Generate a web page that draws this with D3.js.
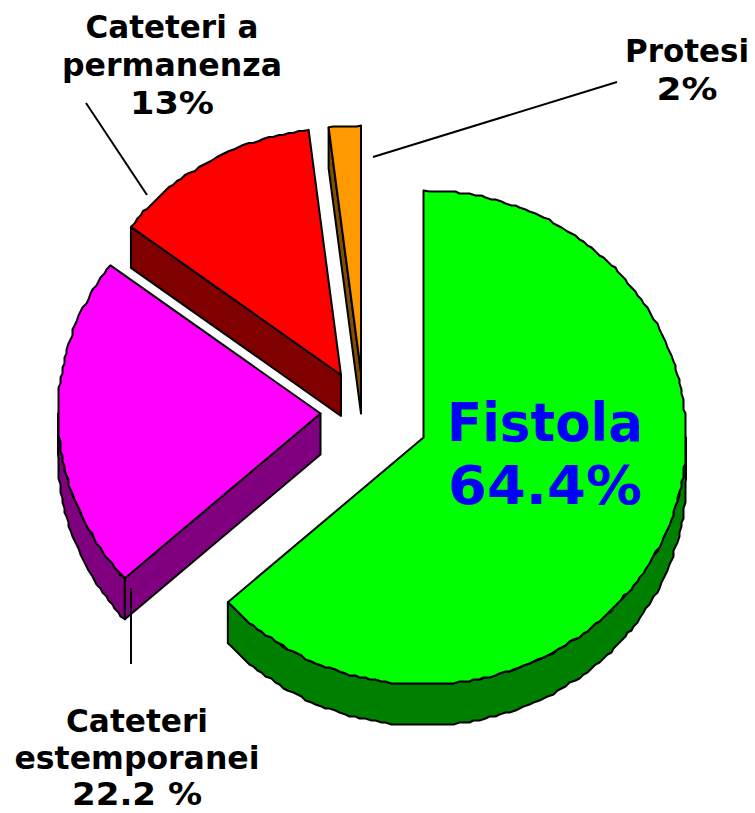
<!DOCTYPE html>
<html><head><meta charset="utf-8">
<script src="https://cdn.jsdelivr.net/npm/d3@7"></script>
<style>html,body{margin:0;padding:0;background:#fff}svg{display:block}</style>
</head><body><svg id="c" width="755" height="813"></svg>
<script>
const categories = ["Fistola","Cateteri estemporanei","Cateteri a permanenza","Protesi"];
const values = [64.4,22.2,13,2];
const topColors = ["#00ff00","#ff00ff","#ff0000","#ff9900"];
const wallColors = ["#008000","#800080","#800000","#805000"];
const labelLines = [["Fistola","64.4%"],["Cateteri","estemporanei","22.2 %"],["Cateteri a","permanenza","13%"],["Protesi","2%"]];

// layout
const rx=262.5, ry=247, depth=41, gridStep=2, angleStep=0.02;
const centers=[[423.5,437.5],[320.5,413.5],[341,375],[361,372.5]];
const labelPos=[
 {x:545,y:441,lh:63,size:54,fill:"#0000ff",w:[196,194]},
 {x:137,y:732,lh:36.5,size:31.5,fill:"#000",w:[142,245,130]},
 {x:172,y:38,lh:38,size:31.5,fill:"#000",w:[173,220,84]},
 {x:687,y:62,lh:38,size:31.5,fill:"#000",w:[124,61]}];
const leaders=[[[86,103],[147,195]],[[373,157],[617,82]],[[131,588],[131,664]]];

const svg=d3.select("#c");
const pie=d3.pie().sort(null).startAngle(0).endAngle(2*Math.PI)(values);
const line=d3.line().x(d=>d[0]).y(d=>d[1]);
const sx=d3.scaleLinear().domain([-1,1]).range([-rx,rx]);
const sy=d3.scaleLinear().domain([-1,1]).range([ry,-ry]);
const snap=v=>Math.round(v/gridStep)*gridStep;
function rim(a0,a1,c,dy=0){
  const n=Math.max(1,Math.ceil(Math.abs(a1-a0)/angleStep)),pts=[];
  for(let i=0;i<=n;i++){
    const a=a0+(a1-a0)*i/n, ends=(i===0||i===n);
    const x=sx(Math.sin(a)), y=sy(Math.cos(a));
    pts.push([c[0]+(ends?x:snap(x)),c[1]+(ends?y:snap(y))+dy]);
  }
  return pts;
}
function poly(pts,fill){
  svg.append("path").attr("d",line(pts)+"Z").attr("fill",fill)
    .attr("stroke","#000").attr("stroke-width",2).attr("stroke-linejoin","round");
}
function wall(i,a0,a1){
  const c=centers[i],t=rim(a0,a1,c);
  poly(t.concat(rim(a1,a0,c,depth)),wallColors[i]);
}
function cut(i,a){
  const c=centers[i],e=rim(a,a,c)[0];
  poly([c,e,[e[0],e[1]+depth],[c[0],c[1]+depth]],wallColors[i]);
}
function topFace(i){
  const c=centers[i],s=pie[i];
  poly([c].concat(rim(s.startAngle,s.endAngle,c)),topColors[i]);
}
// back to front
cut(3,pie[3].startAngle); topFace(3);
cut(2,pie[2].startAngle); topFace(2);
wall(1,pie[1].startAngle,Math.min(pie[1].endAngle,1.5*Math.PI));
cut(1,pie[1].startAngle); topFace(1);
wall(0,Math.PI/2,pie[0].endAngle); topFace(0);

leaders.forEach(l=>svg.append("path").attr("d",line(l)).attr("stroke","#000").attr("stroke-width",2).attr("fill","none"));

labelLines.forEach((ls,i)=>{
  const p=labelPos[i];
  const t=svg.append("text").attr("text-anchor","middle").attr("font-family","'DejaVu Sans',Verdana,sans-serif")
    .attr("font-weight","bold").attr("font-size",p.size).attr("fill",p.fill);
  ls.forEach((s,j)=>t.append("tspan").attr("x",p.x).attr("y",p.y+j*p.lh)
    .attr("textLength",p.w[j]).attr("lengthAdjust","spacingAndGlyphs").text(s));
});
</script></body></html>
